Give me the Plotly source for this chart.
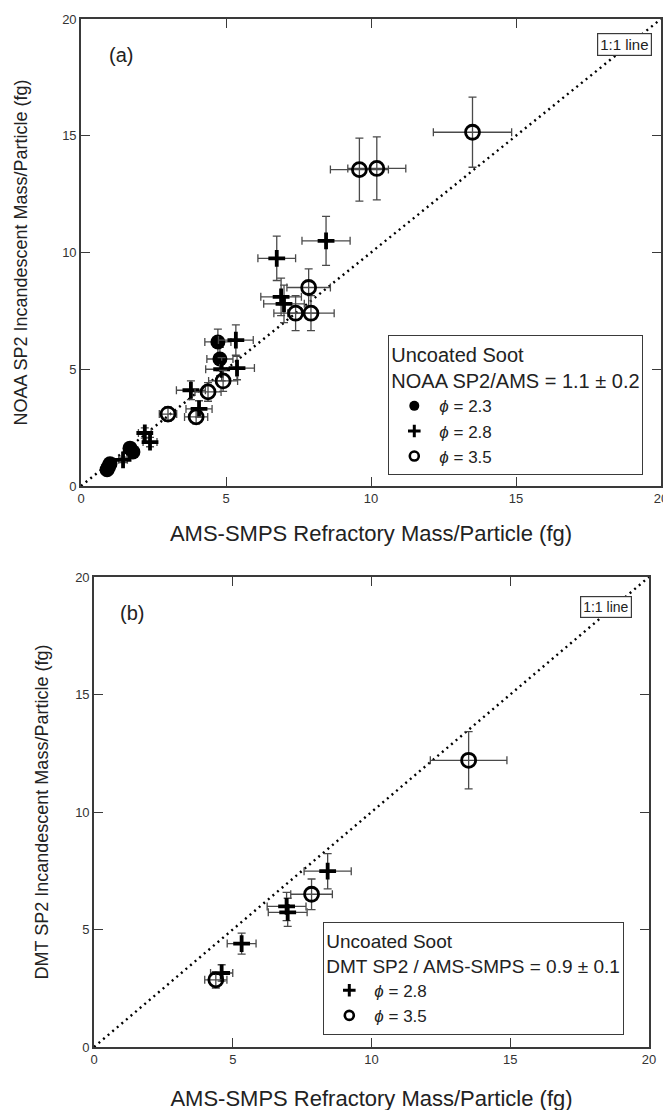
import plotly.graph_objects as go

# ---------------- Panel (a) data: NOAA SP2 vs AMS-SMPS ----------------
a_phi23_x = [0.90, 1.00, 0.95, 1.79, 1.69, 4.72, 4.79]
a_phi23_y = [0.70, 0.95, 0.82, 1.46, 1.62, 6.17, 5.44]
a_phi23_ex = [0.10, 0.10, 0.10, 0.18, 0.17, 0.45, 0.45]
a_phi23_ey = [0.08, 0.10, 0.09, 0.15, 0.16, 0.55, 0.50]

a_phi28_x = [1.45, 2.20, 2.38, 3.79, 4.07, 5.34, 4.85, 5.38, 6.90, 7.00, 6.75, 8.45]
a_phi28_y = [1.12, 2.27, 1.88, 4.10, 3.30, 6.25, 5.00, 5.05, 8.10, 7.80, 9.75, 10.50]
a_phi28_ex = [0.15, 0.22, 0.24, 0.50, 0.45, 0.60, 0.55, 0.60, 0.70, 0.70, 0.65, 0.83]
a_phi28_ey = [0.12, 0.22, 0.20, 0.40, 0.35, 0.65, 0.50, 0.50, 0.80, 0.80, 0.95, 1.05]

a_phi35_x = [3.00, 3.97, 4.38, 4.90, 7.40, 7.93, 7.85, 9.60, 10.20, 13.50]
a_phi35_y = [3.08, 2.96, 4.03, 4.50, 7.40, 7.40, 8.50, 13.55, 13.60, 15.15]
a_phi35_ex = [0.30, 0.40, 0.45, 0.50, 0.75, 0.80, 0.75, 1.00, 1.00, 1.35]
a_phi35_ey = [0.30, 0.30, 0.40, 0.45, 0.75, 0.75, 0.80, 1.35, 1.35, 1.50]

# ---------------- Panel (b) data: DMT SP2 vs AMS-SMPS ----------------
b_phi28_x = [4.60, 5.32, 6.94, 6.98, 8.42]
b_phi28_y = [3.15, 4.40, 5.98, 5.73, 7.48]
b_phi28_ex = [0.40, 0.52, 0.70, 0.70, 0.85]
b_phi28_ey = [0.35, 0.45, 0.60, 0.60, 0.75]

b_phi35_x = [4.39, 7.84, 13.50]
b_phi35_y = [2.86, 6.50, 12.20]
b_phi35_ex = [0.40, 0.75, 1.38]
b_phi35_ey = [0.35, 0.65, 1.22]

one_to_one = [0, 20]
tick_vals = [0, 5, 10, 15, 20]
tick_text = ["0", "5", "10", "15", "20"]

FONT = "Liberation Sans, Arial, sans-serif"
AX = "#3a3a3a"
ERR = "#4a4a4a"

W, H = 671, 1110
OX, OY = 8, 8  # the page puts the plot 8 px in from the window's top-left corner


def px(v):
    return (v - OX) / W


def py(v):
    return 1 - (v - OY) / H


fig = go.Figure()


def err(arr):
    return dict(type="data", array=arr, visible=True, color=ERR, thickness=1.3, width=4)


sym = {
    "filled": dict(symbol="circle", size=15, color="black"),
    "cross": dict(symbol="cross-thin", size=12, color="black", line=dict(width=3.8, color="black")),
    "open": dict(symbol="circle-open", size=14, color="black", line=dict(width=2.8, color="black")),
}
leg_sym = {
    "filled": dict(symbol="circle", size=10, color="black"),
    "cross": dict(symbol="cross-thin", size=9, color="black", line=dict(width=3, color="black")),
    "open": dict(symbol="circle-open", size=9, color="black", line=dict(width=2.6, color="black")),
}

# 1:1 lines
for xa, ya in (("x", "y"), ("x2", "y2")):
    fig.add_trace(go.Scatter(x=one_to_one, y=one_to_one, mode="lines", xaxis=xa, yaxis=ya,
                             line=dict(color="black", width=2.4, dash="2px,4px"),
                             showlegend=False, hoverinfo="skip"))

# Panel (a) data traces
for xs, ys, ex, ey, k in ((a_phi23_x, a_phi23_y, a_phi23_ex, a_phi23_ey, "filled"),
                          (a_phi28_x, a_phi28_y, a_phi28_ex, a_phi28_ey, "cross"),
                          (a_phi35_x, a_phi35_y, a_phi35_ex, a_phi35_ey, "open")):
    fig.add_trace(go.Scatter(x=xs, y=ys, mode="markers", xaxis="x", yaxis="y",
                             error_x=err(ex), error_y=err(ey), marker=sym[k], showlegend=False))

# Panel (b) data traces
for xs, ys, ex, ey, k in ((b_phi28_x, b_phi28_y, b_phi28_ex, b_phi28_ey, "cross"),
                          (b_phi35_x, b_phi35_y, b_phi35_ex, b_phi35_ey, "open")):
    fig.add_trace(go.Scatter(x=xs, y=ys, mode="markers", xaxis="x2", yaxis="y2",
                             error_x=err(ex), error_y=err(ey), marker=sym[k], showlegend=False))

# Legend entries
PHI = "<i>ϕ</i>"
for name, k in ((PHI + " = 2.3", "filled"), (PHI + " = 2.8", "cross"), (PHI + " = 3.5", "open")):
    fig.add_trace(go.Scatter(x=[None], y=[None], mode="markers", xaxis="x", yaxis="y",
                             marker=leg_sym[k], name=name, legend="legend"))
for name, k in ((PHI + " = 2.8", "cross"), (PHI + " = 3.5", "open")):
    fig.add_trace(go.Scatter(x=[None], y=[None], mode="markers", xaxis="x2", yaxis="y2",
                             marker=leg_sym[k], name=name, legend="legend2"))


def axis(domain, anchor, title, standoff, tsize):
    return dict(domain=domain, anchor=anchor, range=[0, 20], tickvals=tick_vals, ticktext=tick_text,
                ticks="inside", ticklen=9, tickwidth=1.4, tickcolor=AX,
                showline=True, linewidth=1.6, linecolor=AX, mirror="ticks",
                showgrid=False, zeroline=False, automargin=False, ticklabeloverflow="allow",
                tickfont=dict(family=FONT, size=13, color="#333"),
                title=dict(text=title, standoff=standoff, font=dict(family=FONT, size=tsize, color="#222")))


def legend(x, y, title, tsize):
    return dict(x=px(x), y=py(y), xanchor="left", yanchor="top",
                bordercolor=AX, borderwidth=1.3, bgcolor="white",
                font=dict(family=FONT, size=17, color="#222"),
                title=dict(text=title, font=dict(family=FONT, size=tsize, color="#222")),
                tracegroupgap=0, itemwidth=40)


def label(text, x, y, size, box=False):
    d = dict(text=text, x=px(x), y=py(y), xref="paper", yref="paper", showarrow=False,
             xanchor="center", yanchor="middle", font=dict(family=FONT, size=size, color="#222"))
    if box:
        d.update(bordercolor=AX, borderwidth=1.2, borderpad=2, bgcolor="white")
    return d


fig.update_layout(
    width=W, height=H, margin=dict(l=0, r=0, t=0, b=0, autoexpand=False),
    paper_bgcolor="white", plot_bgcolor="white",
    font=dict(family=FONT, color="#222"),
    xaxis=axis([px(81), px(661)], "y", "AMS-SMPS Refractory Mass/Particle (fg)", 20, 22),
    yaxis=axis([py(486), py(19)], "x", "NOAA SP2 Incandescent Mass/Particle (fg)", 30, 18),
    xaxis2=axis([px(94), px(649)], "y2", "AMS-SMPS Refractory Mass/Particle (fg)", 24, 22),
    yaxis2=axis([py(1047), py(577)], "x2", "DMT SP2 Incandescent Mass/Particle (fg)", 22, 18),
    legend=legend(388, 335, "Uncoated Soot<br>NOAA SP2/AMS = 1.1 ± 0.2", 20),
    legend2=legend(323, 922, "Uncoated Soot<br>DMT SP2 / AMS-SMPS = 0.9 ± 0.1", 19),
    annotations=[
        label("1:1 line", 624.5, 45, 15, box=True),
        label("1:1 line", 605.5, 606.5, 14, box=True),
        label("(a)", 121, 55, 20),
        label("(b)", 132, 613, 20),
    ],
)

fig.write_html("out.html")
